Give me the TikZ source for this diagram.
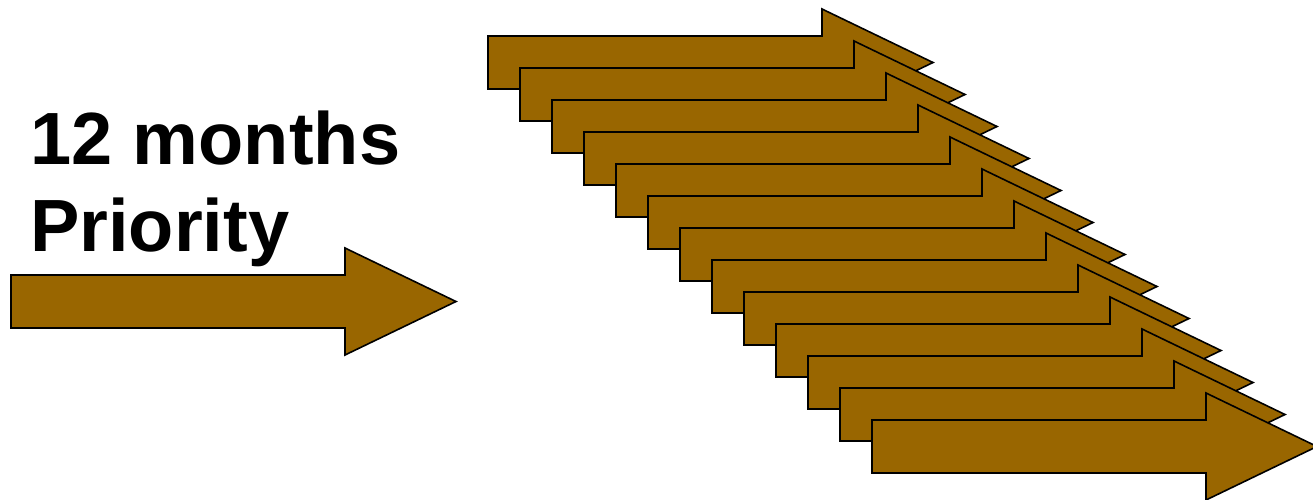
\documentclass[tikz,border=0pt]{standalone}
\usepackage{fontspec}
\setmainfont{Liberation Sans}
\definecolor{arrowfill}{HTML}{996600}
\tikzset{
  bigarrow/.style={fill=arrowfill, draw=black, line width=1.6pt, line join=miter},
  label/.style={anchor=base west, inner sep=0pt, font=\fontsize{74}{88}\selectfont\bfseries}
}
\newcommand{\arrowat}[2]{%
  \draw[bigarrow] (#1,#2) -- ++(334,0) -- ++(0,-27) -- ++(111,53.5) -- ++(-111,53.5) -- ++(0,-27) -- ++(-334,0) -- cycle;}
\begin{document}
\begin{tikzpicture}[x=1pt,y=-1pt]
\useasboundingbox (0,0) rectangle (1313,499);
\node[label] (t1) at (30,164) {12 months};
\node[label] (t2) at (30,251) {Priority};
\arrowat{11}{275}
\foreach \i in {0,...,12}{
  \arrowat{488+32*\i}{36+32*\i}
}
\end{tikzpicture}
\end{document}
